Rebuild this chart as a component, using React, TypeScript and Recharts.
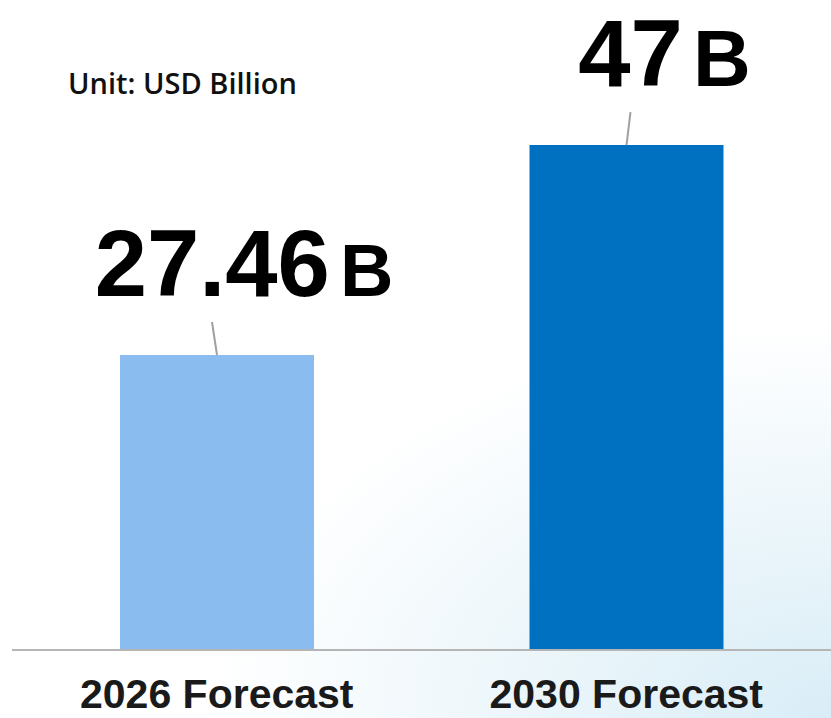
import { BarChart, Bar, XAxis, YAxis, Cell, LabelList } from 'recharts';

const categories = ['2026 Forecast', '2030 Forecast'];
const values = [27.46, 47];
const valueTexts = ['27.46', '47'];
const barColors = ['#8bbcf0', '#0070c0'];

const data = categories.map((name, i) => ({ name, value: values[i], text: valueTexts[i] }));

// big figure + smaller "B", with a short grey leader down to the bar top
function ValueLabel(props: any) {
  const { x, y, width, index } = props;
  const cx = x + width / 2;
  const tilt = index === 0 ? -5 : 4;
  const shift = index === 0 ? 27 : 38;
  return (
    <g>
      <line x1={cx} y1={y} x2={cx + tilt} y2={y - 33} stroke="#a0a0a0" strokeWidth={2} />
      <text
        x={cx + shift}
        y={y - 59}
        textAnchor="middle"
        fill="#000"
        fontFamily="'Liberation Sans', Arial, sans-serif"
        fontWeight="bold"
      >
        <tspan fontSize={94}>{data[index].text}</tspan>
        <tspan fontSize={index === 0 ? 74 : 80} dx={10}>B</tspan>
      </text>
    </g>
  );
}

function CategoryTick(props: any) {
  const { x, y, payload } = props;
  return (
    <text
      x={x}
      y={y + 56}
      textAnchor="middle"
      fill="#1a1a1a"
      fontSize={41}
      fontWeight="bold"
      fontFamily="'Liberation Sans', Arial, sans-serif"
    >
      {payload.value}
    </text>
  );
}

export default function App() {
  return (
    <div
      style={{
        position: 'absolute',
        left: 0,
        top: 0,
        width: 831,
        height: 718,
        overflow: 'hidden',
        background:
          'radial-gradient(ellipse 75% 55% at 100% 100%, #d9edf7 0%, #eaf5fa 45%, #ffffff 100%)',
      }}
    >
      <div
        style={{
          position: 'absolute',
          left: 68,
          top: 63,
          fontFamily: "'Open Sans', sans-serif",
          fontWeight: 600,
          fontSize: 29,
          color: '#111',
          whiteSpace: 'nowrap',
        }}
      >
        Unit: USD Billion
      </div>
      <BarChart
        width={831}
        height={718}
        data={data}
        margin={{ top: 0, right: 0, bottom: 0, left: 12 }}
      >
        <YAxis hide domain={[0, 60.5]} />
        <XAxis
          dataKey="name"
          height={68}
          axisLine={{ stroke: '#b5b5b5', strokeWidth: 2 }}
          tickLine={false}
          tickSize={0}
          tick={<CategoryTick />}
          interval={0}
        />
        <Bar dataKey="value" barSize={194} isAnimationActive={false}>
          {data.map((d, i) => (
            <Cell key={d.name} fill={barColors[i]} />
          ))}
          <LabelList dataKey="value" content={<ValueLabel />} />
        </Bar>
      </BarChart>
    </div>
  );
}
